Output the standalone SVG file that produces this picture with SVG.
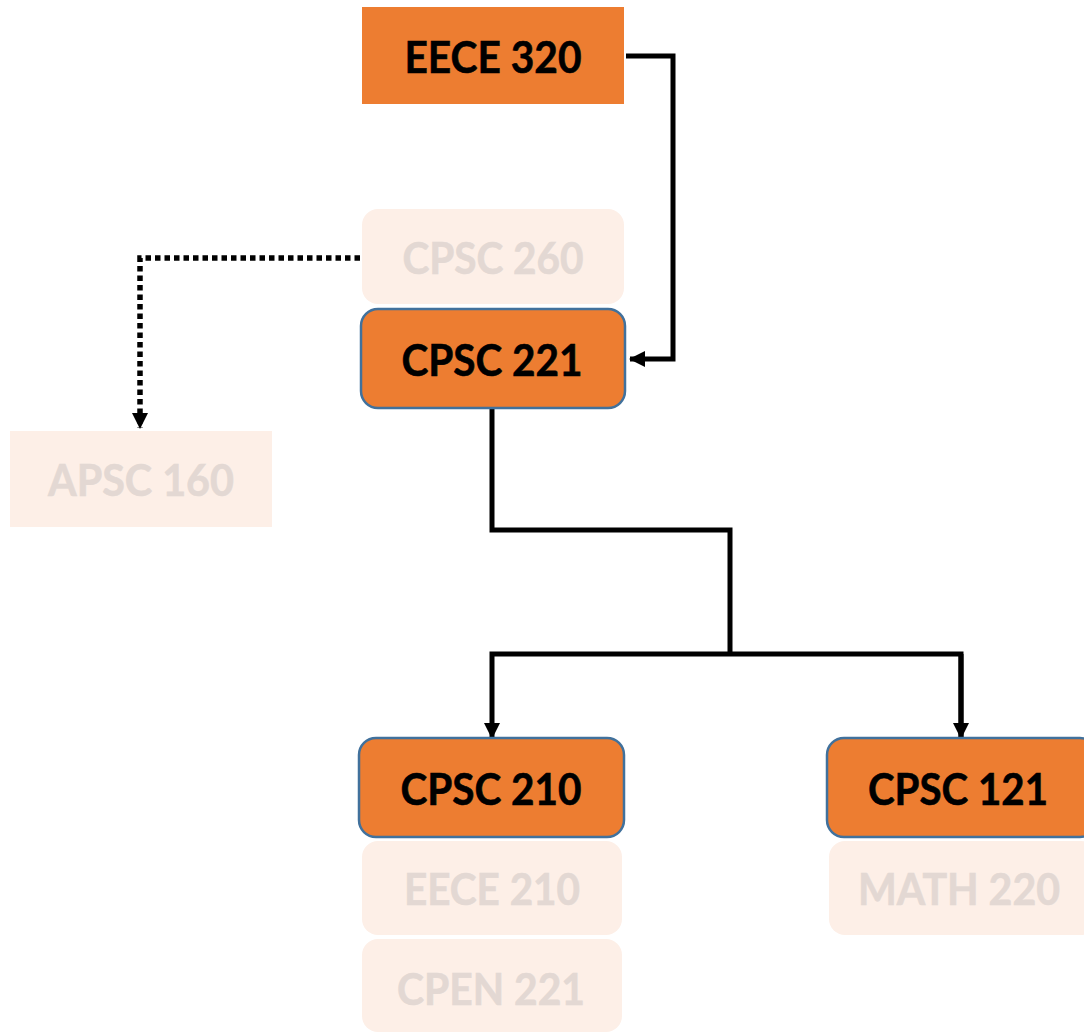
<svg xmlns="http://www.w3.org/2000/svg" width="1084" height="1032" viewBox="0 0 1084 1032">
<style>
.on{fill:#ED7D31;stroke:#41719C;stroke-width:2.5}
.sq{fill:#ED7D31;stroke:none}
.off{fill:#FDEFE7;stroke:none}
text{font-family:Lato,"Open Sans","Liberation Sans",sans-serif;font-weight:bold;font-size:44px;text-anchor:middle}
.t{fill:#000;stroke:#000;stroke-width:0.6}
.f{fill:#E3D8D3;stroke:#E3D8D3;stroke-width:0.6}
.ln{fill:none;stroke:#000;stroke-width:5}
.dot{fill:none;stroke:#000;stroke-width:5.5;stroke-dasharray:5.5 4}
</style>
<defs>
<marker id="ah" markerUnits="userSpaceOnUse" markerWidth="18" markerHeight="18" refX="15" refY="8" orient="auto">
<path d="M0,0 L16,8 L0,16 Z" fill="#000"/>
</marker>
</defs>
<g id="connectors">
<polyline class="ln" points="626,56 673,56 673,359 630,359" marker-end="url(#ah)"/>
<polyline class="ln" points="492,408 492,530 730,530 730,654"/>
<polyline class="ln" points="961,738 961,654 492,654 492,738" marker-end="url(#ah)"/>
<polyline class="ln" points="961,654 961,738" marker-end="url(#ah)"/>
<polyline class="dot" points="360,258 140,258 140,428" marker-end="url(#ah)"/>
</g>
<g id="eece320"><rect class="sq" x="362" y="7" width="262" height="97"/><text class="t" x="493" y="73" textLength="177" lengthAdjust="spacingAndGlyphs">EECE 320</text></g>
<g id="cpsc260"><rect class="off" x="362" y="209" width="262" height="95" rx="16"/><text class="f" x="493" y="274" textLength="181" lengthAdjust="spacingAndGlyphs">CPSC 260</text></g>
<g id="cpsc221"><rect class="on" x="361" y="309" width="264" height="99" rx="17"/><text class="t" x="492" y="376" textLength="181" lengthAdjust="spacingAndGlyphs">CPSC 221</text></g>
<g id="apsc160"><rect class="off" x="10" y="431" width="262" height="96"/><text class="f" x="141" y="496" textLength="186" lengthAdjust="spacingAndGlyphs">APSC 160</text></g>
<g id="cpsc210"><rect class="on" x="359" y="738" width="265" height="99" rx="17"/><text class="t" x="491" y="805" textLength="181" lengthAdjust="spacingAndGlyphs">CPSC 210</text></g>
<g id="eece210"><rect class="off" x="362" y="841" width="260" height="94" rx="16"/><text class="f" x="492" y="905" textLength="176" lengthAdjust="spacingAndGlyphs">EECE 210</text></g>
<g id="cpen221"><rect class="off" x="362" y="939" width="260" height="93" rx="16"/><text class="f" x="491" y="1005" textLength="188" lengthAdjust="spacingAndGlyphs">CPEN 221</text></g>
<g id="cpsc121"><rect class="on" x="827" y="738" width="270" height="99" rx="17"/><text class="t" x="958" y="805" textLength="180" lengthAdjust="spacingAndGlyphs">CPSC 121</text></g>
<g id="math220"><rect class="off" x="829" y="841" width="268" height="94" rx="16"/><text class="f" x="959" y="905" textLength="202" lengthAdjust="spacingAndGlyphs">MATH 220</text></g>
</svg>
